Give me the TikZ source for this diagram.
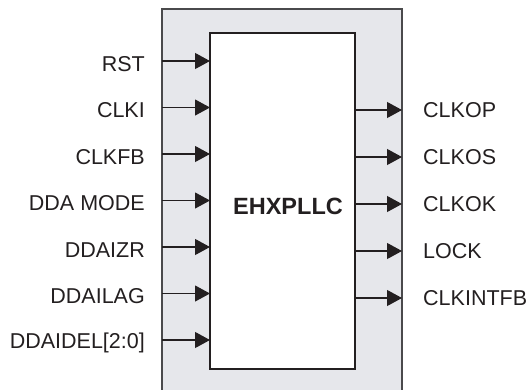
\documentclass[tikz,border=0pt]{standalone}
\usepackage{fontspec}
\setmainfont{Liberation Sans}
\usetikzlibrary{arrows.meta}
\definecolor{panel}{HTML}{E6E7EB}
\definecolor{edge}{HTML}{4A4A4C}
\definecolor{ink}{HTML}{231F20}
\begin{document}
\begin{tikzpicture}[x=1pt,y=-1pt,
  pinlabel/.style={inner sep=0pt,font=\fontsize{21.5}{25}\selectfont,text=ink},
  pinarrow/.style={draw=ink,line width=1.1pt,-{Triangle[length=15pt,width=16pt]}},
  block/.style={draw=ink,line width=1.3pt,fill=white,minimum width=145pt,minimum height=336pt,inner sep=0pt}]
\useasboundingbox (0,0) rectangle (526,389);
\clip (0,0) rectangle (526,389);
\fill[panel,draw=edge,line width=1.5pt] (162,9) rectangle (402,400);
\node[block] (blk) at (282.5,201) {};
\node[inner sep=0pt,font=\fontsize{23.5}{27}\bfseries\selectfont,text=ink] (name) at (288,206) {EHXPLLC};
% inputs
\foreach \i/\t/\yy in {1/RST/61,2/CLKI/107.5,3/CLKFB/154,4/DDA MODE/200.5,5/DDAIZR/247,6/DDAILAG/293.5,7/DDAIDEL[2:0]/340}{
  \coordinate (in\i) at (162,\yy);
  \coordinate (inend\i) at (210,\yy);
  \node[pinlabel,anchor=east] (inl\i) at (145,\yy+3) {\t};
  \draw[pinarrow] (in\i) -- (inend\i);
}
% outputs
\foreach \i/\t/\yy in {1/CLKOP/110,2/CLKOS/157,3/CLKOK/204,4/LOCK/251,5/CLKINTFB/298}{
  \coordinate (out\i) at (355,\yy);
  \coordinate (outend\i) at (402,\yy);
  \node[pinlabel,anchor=west] (outl\i) at (423,\yy) {\t};
  \draw[pinarrow] (out\i) -- (outend\i);
}
\end{tikzpicture}
\end{document}
